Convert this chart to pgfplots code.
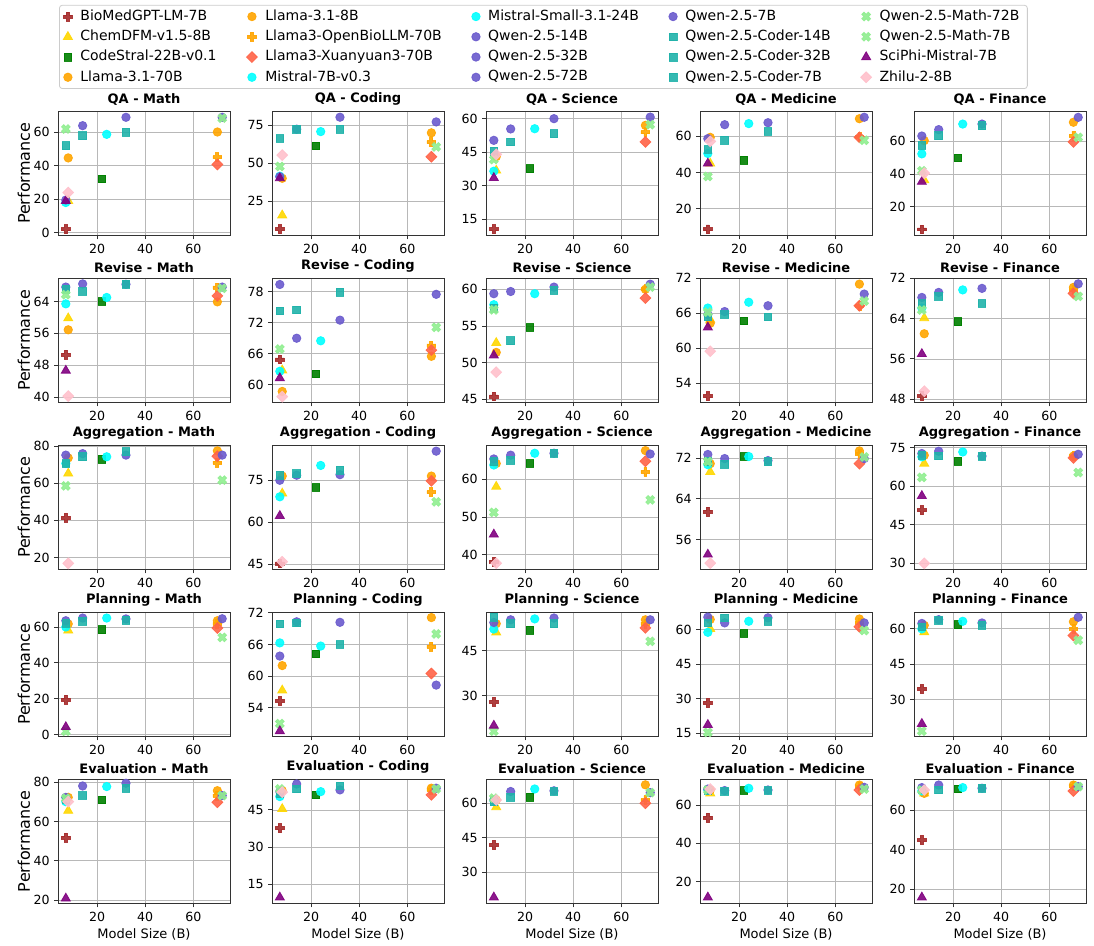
\documentclass[border=0pt]{standalone}
\usepackage{fontspec}
\setmainfont{DejaVu Sans}
\usepackage{pgfplots}
\usepackage{pgfplotstable}
\pgfplotsset{compat=1.18}
\usepgfplotslibrary{groupplots}

\definecolor{cbio}{HTML}{A52A2A}
\definecolor{cgold}{HTML}{FFD700}
\definecolor{cgreen}{HTML}{008000}
\definecolor{corange}{HTML}{FFA500}
\definecolor{ctomato}{HTML}{FF6347}
\definecolor{ccyan}{HTML}{00FFFF}
\definecolor{cslate}{HTML}{6A5ACD}
\definecolor{cteal}{HTML}{20B2AA}
\definecolor{clgreen}{HTML}{90EE90}
\definecolor{cpurple}{HTML}{800080}
\definecolor{cpink}{HTML}{FFC0CB}

% filled plus, like matplotlib 'P'
\pgfdeclareplotmark{fplus}{%
  \pgfpathmoveto{\pgfqpoint{-.34\pgfplotmarksize}{\pgfplotmarksize}}%
  \pgfpathlineto{\pgfqpoint{.34\pgfplotmarksize}{\pgfplotmarksize}}%
  \pgfpathlineto{\pgfqpoint{.34\pgfplotmarksize}{.34\pgfplotmarksize}}%
  \pgfpathlineto{\pgfqpoint{\pgfplotmarksize}{.34\pgfplotmarksize}}%
  \pgfpathlineto{\pgfqpoint{\pgfplotmarksize}{-.34\pgfplotmarksize}}%
  \pgfpathlineto{\pgfqpoint{.34\pgfplotmarksize}{-.34\pgfplotmarksize}}%
  \pgfpathlineto{\pgfqpoint{.34\pgfplotmarksize}{-\pgfplotmarksize}}%
  \pgfpathlineto{\pgfqpoint{-.34\pgfplotmarksize}{-\pgfplotmarksize}}%
  \pgfpathlineto{\pgfqpoint{-.34\pgfplotmarksize}{-.34\pgfplotmarksize}}%
  \pgfpathlineto{\pgfqpoint{-\pgfplotmarksize}{-.34\pgfplotmarksize}}%
  \pgfpathlineto{\pgfqpoint{-\pgfplotmarksize}{.34\pgfplotmarksize}}%
  \pgfpathlineto{\pgfqpoint{-.34\pgfplotmarksize}{.34\pgfplotmarksize}}%
  \pgfpathclose
  \pgfusepathqfillstroke
}
% filled x, like matplotlib 'X'
\pgfdeclareplotmark{fx}{\pgftransformrotate{45}\pgfuseplotmark{fplus}}
% square diamond, like matplotlib 'D'
\pgfdeclareplotmark{sqd}{%
  \pgfpathmoveto{\pgfqpoint{0pt}{\pgfplotmarksize}}%
  \pgfpathlineto{\pgfqpoint{\pgfplotmarksize}{0pt}}%
  \pgfpathlineto{\pgfqpoint{0pt}{-\pgfplotmarksize}}%
  \pgfpathlineto{\pgfqpoint{-\pgfplotmarksize}{0pt}}%
  \pgfpathclose
  \pgfusepathqfillstroke
}

% one row per model, one column per panel (task x domain)
\pgfplotstableread{
cls size QM QC QS QMe QF RM RC RS RMe RF AM AC AS AMe AF PM PC PS PMe PF EM EC ES EMe EF
m1 7 2.0 6.4 10.5 8.6 6.2 50.7 64.9 45.4 51.8 48.6 41.4 45.3 38.2 61.5 50.7 19.5 55.3 27.9 28.1 34.6 51.8 37.6 41.9 53.4 44.8
m2 8 19 15.6 36.8 45 36.3 59.8 62.8 52.7 64.9 64.1 65.3 70.3 58 69.3 68.9 58.1 57.3 51.1 60.3 58.6 65.5 45.4 58.3 66.1 68.4
m3 22 32.2 61.4 37.6 46.8 49.9 64 62.1 54.8 64.7 63.4 73 72.4 64.1 72.3 69.8 58.5 64.2 51.8 58.3 61.8 71 51.1 62.6 67.5 70.6
m4 70 60.2 70 57 69.7 71.6 63.9 65.5 60 71 70.2 77.5 76.5 67.5 73.4 71.8 63.5 71.1 55.3 64.6 63 75.7 53.8 68 70.4 72.6
m5 8 44.7 40 43 59.4 60.4 56.9 58.7 51.4 64.3 61 73.7 76.5 64.1 70.9 72.1 61.7 62 54 64.4 61.5 72.3 52.8 61.4 67.8 68.4
m6 70 45.1 63.8 53.9 59.5 63.4 67.5 67.6 60 67.3 69.7 71.2 70.8 61.9 72.8 71.8 61.7 65.6 54 62.9 60 73.2 53.1 61.4 69.6 72.1
m7 70 40.8 54.2 49.6 59.4 59.6 65.4 66.7 58.8 67.3 69 74.6 74.8 64.7 70.9 71.1 59.4 60.5 52.6 61.2 57.2 69.8 51.1 60 67.8 69.6
m8 7 18 41.4 36.5 50.5 52.3 63.4 62.6 57.9 66.9 66.1 70.7 69.1 63.7 70.7 71.5 60 66.3 52.2 58.8 60 70.1 50.4 61.2 67.8 69.6
m9 24 58.8 70.8 55.5 67 70.5 65 68.5 59.4 67.9 69.7 74.3 80.3 66.8 72.3 73.4 65 65.7 55.6 63.6 63.2 77.8 52.4 66.2 68.7 71.3
m10 14 64 72.4 55.4 66.4 67.1 68.4 69 59.7 66.3 69.2 76 76.8 66.3 71.9 73.7 65 70.3 55.3 62.9 63.9 78.1 55.5 65.1 67.5 72.6
m11 32 69 80.3 60 67.5 70.5 68.3 72.5 60.3 67.3 70 75.2 77 66.8 71.5 71.8 64.5 70.2 55.9 65.1 62.5 79.5 53.1 65.4 67.8 71
m12 72 69 77.2 60.7 70.5 74.6 67.6 77.5 60.7 69.3 70.9 75.2 85.4 66.6 71.9 72.5 64.6 58.3 55.3 62.9 64.9 73.2 53.8 64.6 69.2 71.8
m13 7 19.5 41 50.3 58.7 63.2 67.6 79.4 59.4 65.8 68.2 75.2 75 65.3 72.7 72.8 63.5 63.8 54.4 65.4 62.3 72.3 52.4 61.4 68.3 71.3
m14 14 58 72.4 49.6 57.8 63.4 66.5 74.5 53 65.8 68.4 74.3 77.4 65 70.8 71.9 63.2 70.1 54 65.1 63.5 73.2 53.5 62.6 67 70.1
m15 32 60.2 72.4 53.3 62.6 69.5 68.3 77.9 59.9 65.4 67 77 78.6 66.8 71.3 71.8 63.7 66 54 63.6 61.5 76.9 54.7 65.1 67.5 71
m16 7 52 66.2 45.4 52.7 57.6 67.1 74.3 57.4 65.4 67 70.7 76.8 64.6 71.3 72.1 62.2 69.9 56.2 62.9 60.8 71.3 51.5 60.7 67.5 70.1
m17 72 68.5 60.7 57.3 57.8 62.4 67.3 71.1 60.3 68.1 68.4 61.7 67.3 54.5 72.2 65.4 54.2 68 48.1 59.6 55.2 73.2 53.5 64.6 68.3 71.8
m18 7 62 47.8 41.7 37.8 42 65.7 66.9 57.2 66.2 65.7 58.6 nan 51.2 71.3 63.5 1.8 51 18.1 15.3 16.8 71.8 53.5 62.2 67.8 70.1
m19 7 19 40.1 33.5 45 35.3 46.7 61.3 51 63.6 57 nan 62.3 45.4 53.1 56.3 4.2 49.6 20 18.6 19.9 20.8 9.6 19.1 11.8 15.8
m20 8 24 55.3 44 57.2 40.5 40.3 57.7 48.7 59.5 49.6 16.8 45.9 37.8 51.4 30 nan nan nan nan nan 70.1 52.2 61.4 68.3 70.1
}\data

\newcommand{\pan}[1]{\addplot[scatter, only marks, line width=0.4pt, opacity=0.9, scatter src=explicit symbolic] table[x=size, y=#1, meta=cls] {\data};}

\begin{document}
\begin{tikzpicture}
\begin{groupplot}[
    group style={group size=5 by 5, horizontal sep=21pt, vertical sep=21.5pt},
    scale only axis, width=86pt, height=62pt,
    xmin=3.75, xmax=75.25, xtick={20,40,60},
    grid=major, grid style={black!28, line width=0.4pt},
    axis line style={black!80, line width=0.45pt},
    tick align=outside, tick pos=left, major tick length=2pt,
    tick style={black!80, line width=0.45pt},
    ticklabel style={font=\fontsize{6.3}{7}\selectfont, inner sep=0.5pt},
    xticklabel shift=1.65pt, yticklabel shift=1.5pt,
    /pgf/number format/assume math mode=true,
    xlabel style={font=\fontsize{6.5}{7.5}\selectfont, inner sep=1pt},
    ylabel style={font=\fontsize{8}{9}\selectfont, inner sep=1pt},
    xlabel shift=1.7pt,
    title style={font=\bfseries\fontsize{6.5}{7.5}\selectfont, inner sep=0.5pt, yshift=-3.85pt},
    scatter/classes={
        m1={mark=fplus, mark size=2.2pt, draw=cbio, fill=cbio},
        m2={mark=triangle*, mark size=2.6pt, draw=cgold, fill=cgold},
        m3={mark=square*, mark size=1.95pt, draw=cgreen, fill=cgreen},
        m4={mark=*, mark size=2.1pt, draw=corange, fill=corange},
        m5={mark=*, mark size=2.1pt, draw=corange, fill=corange},
        m6={mark=fplus, mark size=2.2pt, draw=corange, fill=corange},
        m7={mark=sqd, mark size=2.7pt, draw=ctomato, fill=ctomato},
        m8={mark=*, mark size=2.1pt, draw=ccyan, fill=ccyan},
        m9={mark=*, mark size=2.1pt, draw=ccyan, fill=ccyan},
        m10={mark=*, mark size=2.1pt, draw=cslate, fill=cslate},
        m11={mark=*, mark size=2.1pt, draw=cslate, fill=cslate},
        m12={mark=*, mark size=2.1pt, draw=cslate, fill=cslate},
        m13={mark=*, mark size=2.1pt, draw=cslate, fill=cslate},
        m14={mark=square*, mark size=1.95pt, draw=cteal, fill=cteal},
        m15={mark=square*, mark size=1.95pt, draw=cteal, fill=cteal},
        m16={mark=square*, mark size=1.95pt, draw=cteal, fill=cteal},
        m17={mark=fx, mark size=2.3pt, draw=clgreen, fill=clgreen},
        m18={mark=fx, mark size=2.3pt, draw=clgreen, fill=clgreen},
        m19={mark=triangle*, mark size=2.6pt, draw=cpurple, fill=cpurple},
        m20={mark=sqd, mark size=2.7pt, draw=cpink, fill=cpink}
    },
]
% ---- QA
\nextgroupplot[title={QA - Math}, ylabel={Performance}, ymin=-1.6, ymax=72.6, ytick={0,20,40,60},
    legend columns=4, transpose legend, legend cell align=left,
    legend style={at={(0,1)}, anchor=south west, yshift=11.15pt, xshift=0.5pt,
        draw=black!20, rounded corners=1.5pt, font=\fontsize{7}{8}\selectfont,
        inner xsep=2pt, inner ysep=0.6pt, row sep=0pt,
        nodes={inner ysep=1.65pt},
        /tikz/every odd column/.append style={column sep=2pt},
        /tikz/every even column/.append style={column sep=13pt}}]
\pan{QM}
\legend{BioMedGPT-LM-7B, ChemDFM-v1.5-8B, CodeStral-22B-v0.1, Llama-3.1-70B,
    Llama-3.1-8B, Llama3-OpenBioLLM-70B, Llama3-Xuanyuan3-70B, Mistral-7B-v0.3,
    Mistral-Small-3.1-24B, Qwen-2.5-14B, Qwen-2.5-32B, Qwen-2.5-72B,
    Qwen-2.5-7B, Qwen-2.5-Coder-14B, Qwen-2.5-Coder-32B, Qwen-2.5-Coder-7B,
    Qwen-2.5-Math-72B, Qwen-2.5-Math-7B, SciPhi-Mistral-7B, Zhilu-2-8B}
\nextgroupplot[title={QA - Coding}, ymin=2.4, ymax=84.2, ytick={25,50,75}]
\pan{QC}
\nextgroupplot[title={QA - Science}, ymin=7.8, ymax=63.3, ytick={15,30,45,60}]
\pan{QS}
\nextgroupplot[title={QA - Medicine}, ymin=5.3, ymax=73.8, ytick={20,40,60}]
\pan{QMe}
\nextgroupplot[title={QA - Finance}, ymin=2.6, ymax=78.3, ytick={20,40,60}]
\pan{QF}
% ---- Revise
\nextgroupplot[title={Revise - Math}, ylabel={Performance}, ymin=38.75, ymax=69.8, ytick={40,48,56,64}]
\pan{RM}
\nextgroupplot[title={Revise - Coding}, ymin=56.6, ymax=80.6, ytick={60,66,72,78}]
\pan{RC}
\nextgroupplot[title={Revise - Science}, ymin=44.6, ymax=61.5, ytick={45,50,55,60}]
\pan{RS}
\nextgroupplot[title={Revise - Medicine}, ymin=50.75, ymax=72.0, ytick={54,60,66,72}]
\pan{RMe}
\nextgroupplot[title={Revise - Finance}, ymin=47.4, ymax=72.0, ytick={48,56,64,72}]
\pan{RF}
% ---- Aggregation
\nextgroupplot[title={Aggregation - Math}, ylabel={Performance}, ymin=13.6, ymax=80.5, ytick={20,40,60,80}]
\pan{AM}
\nextgroupplot[title={Aggregation - Coding}, ymin=43.2, ymax=87.5, ytick={45,60,75}]
\pan{AC}
\nextgroupplot[title={Aggregation - Science}, ymin=36.2, ymax=68.9, ytick={40,50,60}]
\pan{AS}
\nextgroupplot[title={Aggregation - Medicine}, ymin=50.2, ymax=74.5, ytick={56,64,72}]
\pan{AMe}
\nextgroupplot[title={Aggregation - Finance}, ymin=27.7, ymax=76, ytick={30,45,60,75}]
\pan{AF}
% ---- Planning
\nextgroupplot[title={Planning - Math}, ylabel={Performance}, ymin=-1, ymax=68.2, ytick={0,20,40,60}]
\pan{PM}
\nextgroupplot[title={Planning - Coding}, ymin=48.6, ymax=72.1, ytick={54,60,66,72}]
\pan{PC}
\nextgroupplot[title={Planning - Science}, ymin=16.4, ymax=57.8, ytick={30,45}]
\pan{PS}
\nextgroupplot[title={Planning - Medicine}, ymin=13.6, ymax=67.5, ytick={15,30,45,60}]
\pan{PMe}
\nextgroupplot[title={Planning - Finance}, ymin=14.6, ymax=67, ytick={30,45,60}]
\pan{PF}
% ---- Evaluation
\nextgroupplot[title={Evaluation - Math}, ylabel={Performance}, xlabel={Model Size (B)}, ymin=18.3, ymax=81.5, ytick={20,40,60,80}]
\pan{EM}
\nextgroupplot[title={Evaluation - Coding}, xlabel={Model Size (B)}, ymin=7.2, ymax=57.4, ytick={15,30,45}]
\pan{EC}
\nextgroupplot[title={Evaluation - Science}, xlabel={Model Size (B)}, ymin=16.5, ymax=70.4, ytick={30,45,60}]
\pan{ES}
\nextgroupplot[title={Evaluation - Medicine}, xlabel={Model Size (B)}, ymin=8.7, ymax=73.4, ytick={20,40,60}]
\pan{EMe}
\nextgroupplot[title={Evaluation - Finance}, xlabel={Model Size (B)}, ymin=12.8, ymax=75.5, ytick={20,40,60}]
\pan{EF}
\end{groupplot}
\path ([xshift=-29pt,yshift=55.65pt]group c1r1.north west) rectangle ([xshift=518pt,yshift=-417.35pt]group c1r1.north west);
\end{tikzpicture}
\end{document}
